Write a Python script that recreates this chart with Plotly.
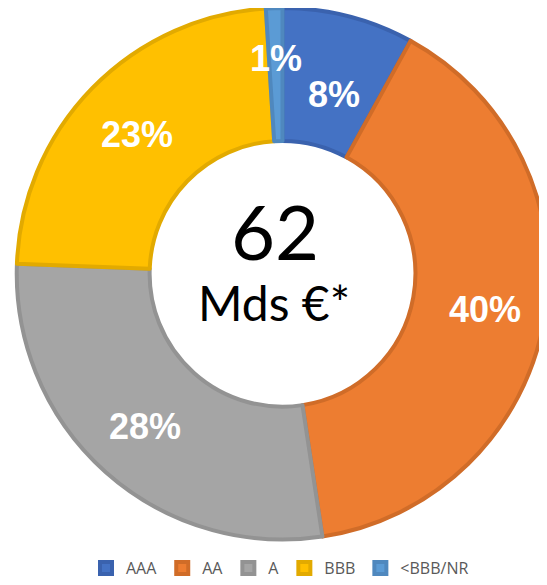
import numpy as np
import plotly.graph_objects as go

categories = ["AAA", "AA", "A", "BBB", "<BBB/NR"]
shares = [8.0, 39.6, 28.0, 23.4, 1.0]
center_value = "62"
center_unit = "Mds €*"

fills = ["#4472C4", "#ED7D31", "#A5A5A5", "#FFC000", "#5B9BD5"]
borders = ["#3A62AE", "#D06C28", "#939393", "#E2AA00", "#4F88BE"]
label_rfrac = [0.70, 0.765, 0.768, 0.753, 0.81]
label_dang = [1.5, 0, 0, 0, 0]  # small angular nudges (degrees)

# the page body adds an 8px margin, so figure pixel = screen pixel - OFF
OFF = 8
W, H = 547, 577


def sx(px):
    return (px - OFF) / W


def sy(py):
    return 1 - (py - OFF) / H


dom_x = [sx(13), sx(552)]
dom_y = [sy(547), sy(8)]

fig = go.Figure(go.Pie(
    labels=categories, values=shares, sort=False, direction="clockwise",
    rotation=0, hole=0.5, textinfo="none", hoverinfo="label+percent",
    marker=dict(colors=fills, line=dict(color=borders, width=4)),
    domain=dict(x=dom_x, y=dom_y),
))

# geometry of the pie in figure pixels (Plotly: radius = half the smaller domain side)
wpx = (dom_x[1] - dom_x[0]) * W
hpx = (dom_y[1] - dom_y[0]) * H
R = min(wpx, hpx) / 2
cx = (dom_x[0] + dom_x[1]) / 2 * W
cy = (1 - (dom_y[0] + dom_y[1]) / 2) * H

vals = np.array(shares)
pct = vals / vals.sum() * 100
cum = np.cumsum(pct) - pct / 2
for p, mid, rf, da in zip(pct, cum, label_rfrac, label_dang):
    th = np.deg2rad(mid * 3.6 + da)
    px = cx + rf * R * np.sin(th)
    py = cy - rf * R * np.cos(th)
    fig.add_annotation(x=px / W, y=1 - py / H, xref="paper", yref="paper",
                       xanchor="center", yanchor="middle",
                       text=f"{round(p)}%", showarrow=False,
                       font=dict(family="Liberation Sans", size=36, color="white", weight="bold"))

fig.add_annotation(x=sx(275), y=sy(234), xref="paper", yref="paper",
                   xanchor="center", yanchor="middle",
                   text=center_value, showarrow=False,
                   font=dict(family="Lato", size=76, color="black"))
fig.add_annotation(x=sx(274), y=sy(307), xref="paper", yref="paper",
                   xanchor="center", yanchor="middle",
                   text=center_unit, showarrow=False,
                   font=dict(family="Lato", size=48, color="black"))

fig.update_layout(
    width=W, height=H, margin=dict(l=0, r=0, t=0, b=0),
    paper_bgcolor="white", plot_bgcolor="white",
    showlegend=True,
    legend=dict(orientation="h", x=sx(280), xanchor="center", y=sy(576), yanchor="middle",
                font=dict(family="Open Sans", size=16, color="#595959"),
                itemwidth=30, tracegroupgap=0),
)
fig.write_html("out.html")
